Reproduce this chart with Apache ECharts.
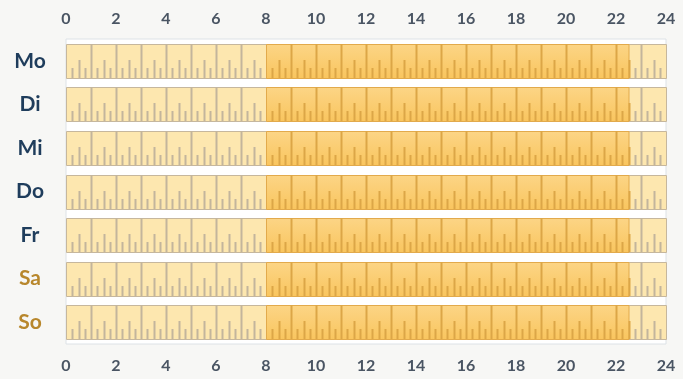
<!DOCTYPE html>
<html>
<head>
<meta charset="utf-8">
<script src="https://cdn.jsdelivr.net/npm/echarts@6/dist/echarts.min.js"></script>
<style>
html,body{margin:0;padding:0;background:#f7f7f5;}
#c{width:683px;height:379px;}
</style>
</head>
<body>
<div id="c"></div>
<script>
var days = ['Mo', 'Di', 'Mi', 'Do', 'Fr', 'Sa', 'So'];
var weekend = [false, false, false, false, false, true, true];
var openStart = [8, 8, 8, 8, 8, 8, 8];
var openEnd = [22.5, 22.5, 22.5, 22.5, 22.5, 22.5, 22.5];
var dayStart = 0;
var dayEnd = 24;
var hourTicks = [0, 2, 4, 6, 8, 10, 12, 14, 16, 18, 20, 22, 24];

var data = days.map(function (d, i) { return [i, openStart[i], openEnd[i]]; });

function renderItem(params, api) {
  var idx = api.value(0);
  var s = api.value(1), e = api.value(2);
  var bandH = api.size([0, 1])[1];
  var h = Math.round(bandH * 0.78);
  var c0 = api.coord([dayStart, idx]);
  var c24 = api.coord([dayEnd, idx]);
  var top = Math.round(c0[1] - h / 2);
  var bottom = top + h;
  var children = [];
  children.push({
    type: 'rect',
    shape: { x: c0[0] + 0.5, y: top + 0.5, width: c24[0] - c0[0], height: h },
    style: { fill: '#fde7af', stroke: '#c6b79d', lineWidth: 1 }
  });
  var cs = api.coord([s, idx]), ce = api.coord([e, idx]);
  children.push({
    type: 'rect',
    shape: { x: cs[0] + 0.5, y: top + 0.5, width: ce[0] - cs[0], height: h },
    style: {
      fill: new echarts.graphic.LinearGradient(0, 0, 0, 1, [
        { offset: 0, color: '#fcd586' },
        { offset: 1, color: '#f9c55e' }
      ]),
      stroke: '#e2aa4c', lineWidth: 1
    }
  });
  for (var hr = dayStart; hr < dayEnd; hr++) {
    for (var q = 1; q <= 4; q++) {
      var t = hr + q / 4;
      if (t >= dayEnd) break;
      var inside = t >= s && t <= e;
      var p = api.coord([t, idx]);
      var x = Math.round(p[0]) + 0.5;
      var len;
      if (q === 4) len = h; else if (q === 2) len = 18; else len = 10;
      if (q === 4 && (t === s || t === e)) continue;
      children.push({
        type: 'line',
        shape: { x1: x, y1: bottom, x2: x, y2: bottom - len },
        style: { stroke: inside ? '#dca647' : '#c3b59c', lineWidth: 2 }
      });
    }
  }
  return { type: 'group', children: children };
}

var labelStyle = { fontFamily: 'Lato', fontWeight: 'bold', fontSize: 16, color: '#4a5563' };

var option = {
  backgroundColor: '#f7f7f5',
  animation: false,
  grid: { left: 66, right: 17, top: 39, bottom: 35, show: true, backgroundColor: '#ffffff', borderColor: '#dde2e6', borderWidth: 1 },
  xAxis: [
    {
      type: 'value', min: dayStart, max: dayEnd, interval: 2, position: 'top',
      axisLine: { show: false }, axisTick: { show: false }, splitLine: { show: false },
      axisLabel: Object.assign({ margin: 12 }, labelStyle)
    },
    {
      type: 'value', min: dayStart, max: dayEnd, interval: 2, position: 'bottom',
      axisLine: { show: false }, axisTick: { show: false }, splitLine: { show: false },
      axisLabel: Object.assign({ margin: 14 }, labelStyle)
    }
  ],
  yAxis: {
    type: 'category', data: days, inverse: true,
    axisLine: { show: false }, axisTick: { show: false }, splitLine: { show: false },
    axisLabel: {
      margin: 36, align: 'center',
      fontFamily: 'Lato', fontWeight: 'bold', fontSize: 21,
      formatter: function (v, i) { return weekend[i] ? '{we|' + v + '}' : '{wd|' + v + '}'; },
      rich: {
        wd: { fontFamily: 'Lato', fontWeight: 'bold', fontSize: 21, color: '#1f3d5c' },
        we: { fontFamily: 'Lato', fontWeight: 'bold', fontSize: 21, color: '#b8872c' }
      }
    }
  },
  series: [{
    type: 'custom',
    xAxisIndex: 0,
    renderItem: renderItem,
    encode: { x: [1, 2], y: 0 },
    data: data
  }]
};

var chart = echarts.init(document.getElementById('c'), null, { renderer: 'canvas' });
chart.setOption(option);
</script>
</body>
</html>
